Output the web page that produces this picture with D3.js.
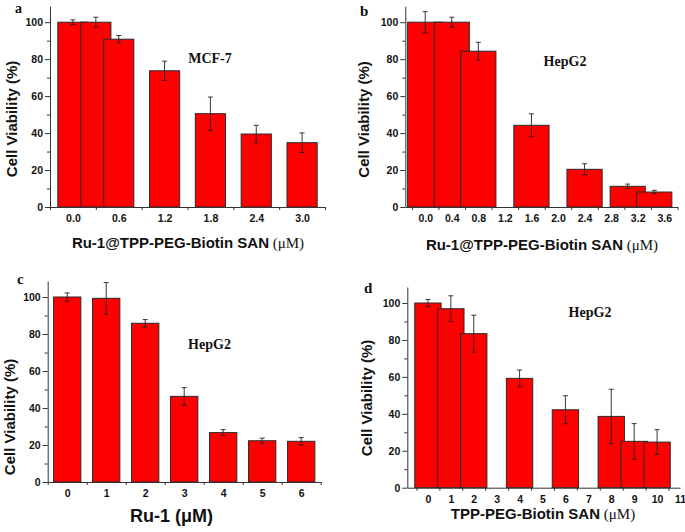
<!DOCTYPE html>
<html>
<head>
<meta charset="utf-8">
<script src="https://cdn.jsdelivr.net/npm/d3@7"></script>
<style>
  html, body { margin: 0; padding: 0; background: #fff; }
  svg { display: block; }
  .tick text { font-family: "Liberation Sans", Arial, sans-serif; font-weight: bold; font-size: 10.5px; fill: #111; }
  .tick line, .domain { stroke: #333; stroke-width: 1; }
</style>
</head>
<body>
<svg id="chart" width="685" height="532"></svg>
<script>
// ---------------- DATA ----------------
// Panel a : MCF-7, Ru-1@TPP-PEG-Biotin SAN
const aDose = [0, 0.3, 0.6, 1.2, 1.8, 2.4, 3.0];
const aViability = [100, 100, 90.8, 73.7, 50.5, 39.5, 34.8];
const aError = [1.3, 2.7, 2.0, 5.2, 9.0, 4.7, 5.3];
const aTickLabels = [0.0, 0.6, 1.2, 1.8, 2.4, 3.0];

// Panel b : HepG2, Ru-1@TPP-PEG-Biotin SAN
const bDose = [0, 0.4, 0.8, 1.6, 2.4, 3.05, 3.45];
const bViability = [100, 100, 84.3, 44.2, 20.4, 11.2, 8.1];
const bError = [5.7, 2.7, 4.8, 6.2, 3.0, 1.2, 0.9];
const bTickLabels = [0.0, 0.4, 0.8, 1.2, 1.6, 2.0, 2.4, 2.8, 3.2, 3.6];

// Panel c : HepG2, Ru-1
const cDose = [0, 1, 2, 3, 4, 5, 6];
const cViability = [100, 99.3, 85.8, 46.3, 26.7, 22.3, 22.0];
const cError = [2.2, 8.5, 2.0, 4.7, 1.6, 1.4, 2.0];
const cTickLabels = [0, 1, 2, 3, 4, 5, 6];

// Panel d : HepG2, TPP-PEG-Biotin SAN
const dDose = [0, 1, 2, 4, 6, 8, 9, 10];
const dViability = [100, 96.9, 83.4, 59.2, 42.2, 38.6, 25.1, 24.7];
const dError = [1.9, 7.0, 10.0, 4.5, 7.6, 14.7, 9.6, 6.7];
const dTickLabels = [0, 1, 2, 3, 4, 5, 6, 7, 8, 9, 10, 11];

const yMajorTicks = [0, 20, 40, 60, 80, 100];
const yMinorTicks = [10, 30, 50, 70, 90];
const yLabel = "Cell Viability (%)";

// ---------------- LAYOUT ----------------
const panels = [
  { letter: "a", cell: "MCF-7", dose: aDose, val: aViability, err: aError, labels: aTickLabels, fmt: ".1f",
    xDomain: [-0.3, 3.3], xRange: [50, 325], yRange: [207, 22.2], barW: 0.395, tickStep: 0.6, tickStart: -0.3,
    title: ["Ru-1@TPP-PEG-Biotin SAN", " (\u03bcM)"], titleSize: 15, titleX: 188, titleY: 248,
    yTitleX: 12, yTitleY: 119, cellX: 210, cellY: 63, letterX: 15, letterY: 12.5, letterSize: 14 },
  { letter: "b", cell: "HepG2", dose: bDose, val: bViability, err: bError, labels: bTickLabels, fmt: ".1f",
    xDomain: [-0.3, 3.8], xRange: [405.3, 677.5], yRange: [207, 22.2], barW: 0.53, tickStep: 0.4, tickStart: -0.2,
    title: ["Ru-1@TPP-PEG-Biotin SAN", " (\u03bcM)"], titleSize: 15, titleX: 542, titleY: 250,
    yTitleX: 364, yTitleY: 119.5, cellX: 565, cellY: 65.5, letterX: 360, letterY: 16, letterSize: 15 },
  { letter: "c", cell: "HepG2", dose: cDose, val: cViability, err: cError, labels: cTickLabels, fmt: "d",
    xDomain: [-0.5, 6.5], xRange: [47.7, 320.7], yRange: [482, 297], barW: 0.7, tickStep: 1, tickStart: -0.5,
    title: ["Ru-1 (\u03bcM)", ""], titleSize: 18, titleX: 171.5, titleY: 522,
    yTitleX: 10, yTitleY: 417, cellX: 209.5, cellY: 348.5, letterX: 17, letterY: 284, letterSize: 15 },
  { letter: "d", cell: "HepG2", dose: dDose, val: dViability, err: dError, labels: dTickLabels, fmt: "d",
    xDomain: [-0.9, 11], xRange: [407.3, 680], yRange: [487.7, 303], barW: 1.15, tickStep: 1, tickStart: -0.5,
    title: ["TPP-PEG-Biotin SAN", " (\u03bcM)"], titleSize: 15, titleX: 543, titleY: 519,
    yTitleX: 367, yTitleY: 398, cellX: 590, cellY: 317, letterX: 364, letterY: 293, letterSize: 15 }
];

const svg = d3.select("#chart");
const sans = '"Liberation Sans", Arial, sans-serif';
const serif = '"Liberation Serif", "Times New Roman", serif';

panels.forEach(p => {
  const g = svg.append("g");
  const x = d3.scaleLinear().domain(p.xDomain).range(p.xRange);
  const pxPer100 = p.yRange[0] - p.yRange[1];
  const yTop = (p.yRange[0] - (p.yRange[1] - 16)) / pxPer100 * 100; // axis reaches ~108.6
  const y = d3.scaleLinear().domain([0, 100]).range(p.yRange);
  const yAxisTop = y(yTop);

  // bars (drawn in order so later bars overlap earlier ones)
  const data = p.dose.map((d, i) => ({ x: d, v: p.val[i], e: p.err[i] }));
  const halfW = (x(p.barW) - x(0)) / 2;
  g.selectAll("rect.bar").data(data).join("rect")
    .attr("class", "bar")
    .attr("x", d => x(d.x) - halfW)
    .attr("width", halfW * 2)
    .attr("y", d => y(d.v))
    .attr("height", d => y(0) - y(d.v))
    .attr("fill", "#ff0000")
    .attr("stroke", "#2a2a2a")
    .attr("stroke-width", 1);

  // error bars
  const cap = 2.5;
  const eg = g.selectAll("g.err").data(data).join("g").attr("class", "err")
    .attr("stroke", "#222").attr("stroke-width", 0.9);
  eg.append("line").attr("x1", d => x(d.x)).attr("x2", d => x(d.x))
    .attr("y1", d => y(d.v + d.e)).attr("y2", d => y(d.v - d.e));
  eg.append("line").attr("x1", d => x(d.x) - cap).attr("x2", d => x(d.x) + cap)
    .attr("y1", d => y(d.v + d.e)).attr("y2", d => y(d.v + d.e));
  eg.append("line").attr("x1", d => x(d.x) - cap).attr("x2", d => x(d.x) + cap)
    .attr("y1", d => y(d.v - d.e)).attr("y2", d => y(d.v - d.e));

  // y axis
  const yAx = d3.scaleLinear().domain([0, yTop]).range([p.yRange[0], yAxisTop]);
  g.append("g").attr("transform", `translate(${p.xRange[0]},0)`)
    .call(d3.axisLeft(yAx).tickValues(yMajorTicks).tickSize(5).tickSizeOuter(0).tickPadding(2).tickFormat(d3.format("d")));
  g.append("g").attr("transform", `translate(${p.xRange[0]},0)`)
    .call(d3.axisLeft(yAx).tickValues(yMinorTicks).tickSize(3).tickFormat(""))
    .select(".domain").remove();

  // x axis: line + small ticks between labels, labels at values
  const tickPos = [];
  for (let t = p.tickStart; t <= p.xDomain[1] + 1e-9; t += p.tickStep) tickPos.push(+t.toFixed(3));
  g.append("g").attr("transform", `translate(0,${p.yRange[0]})`)
    .call(d3.axisBottom(x).tickValues(tickPos).tickSize(3).tickSizeOuter(0).tickFormat(""));
  g.append("g").attr("transform", `translate(0,${p.yRange[0]})`)
    .call(d3.axisBottom(x).tickValues(p.labels).tickSize(0).tickPadding(8).tickFormat(d3.format(p.fmt)))
    .select(".domain").remove();

  // y title
  g.append("text")
    .attr("transform", `translate(${p.yTitleX},${p.yTitleY}) rotate(-90)`)
    .attr("text-anchor", "middle").attr("dy", "0.35em")
    .style("font-family", sans).style("font-weight", "bold").style("font-size", "15px").attr("fill", "#111")
    .text(yLabel);

  // x title
  const xt = g.append("text").attr("x", p.titleX).attr("y", p.titleY).attr("text-anchor", "middle")
    .attr("fill", "#111").style("font-size", p.titleSize + "px");
  xt.append("tspan").style("font-family", sans).style("font-weight", "bold").text(p.title[0]);
  if (p.title[1]) xt.append("tspan").style("font-family", serif).style("font-weight", "normal").text(p.title[1]);

  // cell line label
  g.append("text").attr("x", p.cellX).attr("y", p.cellY).attr("text-anchor", "middle")
    .style("font-family", serif).style("font-weight", "bold").style("font-size", "14px").attr("fill", "#111")
    .text(p.cell);

  // panel letter
  g.append("text").attr("x", p.letterX).attr("y", p.letterY)
    .style("font-family", serif).style("font-weight", "bold").style("font-size", p.letterSize + "px").attr("fill", "#111")
    .text(p.letter);
});
</script>
</body>
</html>
